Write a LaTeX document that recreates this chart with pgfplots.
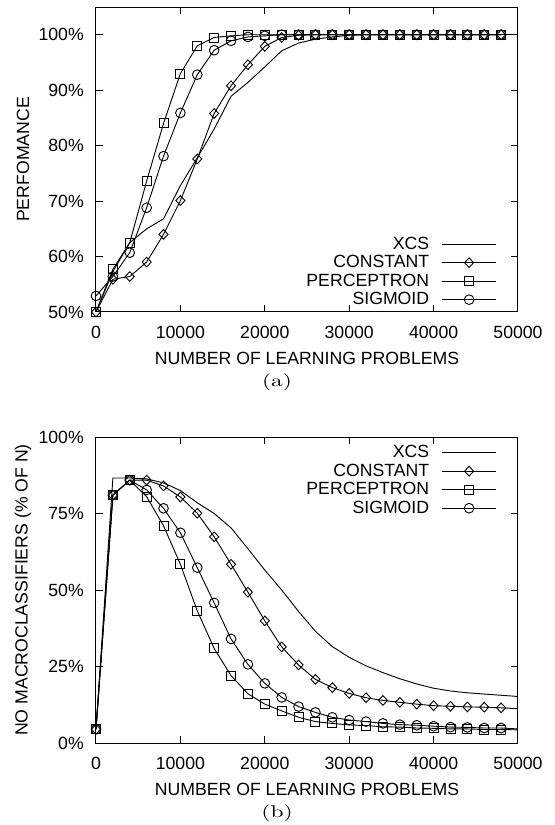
\documentclass[border=0pt]{standalone}
\usepackage{fontspec}
\newfontfamily\helv{Liberation Sans}
\usepackage{pgfplots}
\pgfplotsset{compat=1.18}
\usepackage{pgfplotstable}

% performance (%), every 2000 problems
\pgfplotstableread{
x     xcs   const perc  sig
0     50.0  50.0  50.0  52.9
2000  57.3  55.9  57.7  56.4
4000  62.5  56.4  62.5  60.7
6000  65.0  59.0  73.6  68.8
8000  66.8  64.0  84.0  78.1
10000 72.8  70.1  93.0  85.9
12000 77.8  77.6  98.0  92.8
14000 83.0  85.8  99.5  97.2
16000 88.9  90.8  99.8  98.9
18000 91.4  94.6  100   99.6
20000 94.2  97.9  100   99.8
22000 97.1  99.5  100   100
24000 98.5  99.9  100   100
26000 99.2  100   100   100
28000 99.6  100   100   100
30000 99.9  100   100   100
32000 100   100   100   100
34000 100   100   100   100
36000 100   100   100   100
38000 100   100   100   100
40000 100   100   100   100
42000 100   100   100   100
44000 100   100   100   100
46000 100   100   100   100
48000 100   100   100   100
}\perf
\pgfplotstableread{
x     xcs   const perc  sig
48000 100   100   100   100
50000 100   100   100   100
}\perfend

% macroclassifiers (% of N)
\pgfplotstableread{
x     xcs   const perc  sig
0     4.5   4.5   4.5   4.5
2000  86.6  81.0  81.0  81.0
4000  86.6  85.9  85.9  85.9
6000  86.3  85.9  80.5  82.7
8000  85.0  84.0  71.0  76.7
10000 82.5  80.4  58.4  68.7
12000 78.5  75.1  43.2  57.3
14000 75.0  67.4  30.9  45.8
16000 70.3  58.4  22.0  34.0
18000 63.5  49.3  16.1  25.7
20000 56.5  39.9  12.7  19.5
22000 50.0  31.4  10.5  14.9
24000 43.0  25.5  8.4   11.9
26000 36.5  20.8  7.0   10.0
28000 31.5  18.1  6.4   8.4
30000 28.0  16.2  5.9   7.5
32000 25.2  14.8  5.7   7.0
34000 23.0  13.9  5.3   6.4
36000 21.0  13.3  5.2   6.0
38000 19.3  12.7  4.9   5.8
40000 17.9  12.2  4.8   5.5
42000 17.0  12.0  4.6   5.2
44000 16.4  11.8  4.6   5.1
46000 16.0  11.7  4.4   4.9
48000 15.6  11.5  4.4   4.9
}\macro
\pgfplotstableread{
x     xcs   const perc  sig
48000 15.6  11.5  4.4   4.9
50000 15.2  11.2  4.3   4.6
}\macroend

\tikzset{capt/.style={font=\fontsize{10.2}{12}\selectfont}}

\pgfplotsset{
  gp/.style={
    scale only axis, width=253.2pt,
    clip mode=individual,
    xmin=0, xmax=50000, scaled x ticks=false,
    xtick={0,10000,20000,30000,40000,50000},
    xticklabels={0,10000,20000,30000,40000,50000},
    tick align=inside, major tick length=4pt,
    axis line style={line width=0.6pt}, tick style={line width=0.6pt,black},
    ticklabel style={font=\helv\fontsize{10.6}{12}\selectfont},
    xticklabel style={yshift=-5.2pt},
    yticklabel style={xshift=-3.8pt},
    label style={font=\helv\fontsize{10.6}{12}\selectfont},
    xlabel={NUMBER OF LEARNING PROBLEMS},
    xlabel style={at={(axis description cs:0.5,-0.153)},anchor=center},
    ylabel style={at={(axis description cs:-0.173,0.5)},anchor=center},
    legend plot pos=right, legend cell align=right,
    legend image code/.code={\draw[mark repeat=2,mark phase=2,##1] plot coordinates {(0pt,0pt) (16.2pt,0pt) (32.4pt,0pt)};},
    legend style={draw=none, fill=none, inner sep=0pt, column sep=7pt,
      font=\helv\fontsize{10.6}{12}\selectfont,
      nodes={inner sep=0.5pt, text height=8.1pt, text depth=2pt}},
    every axis plot/.append style={black, line width=0.55pt},
  },
  lxcs/.style={no marks},
  lconst/.style={mark=diamond, mark size=2.9pt, mark options={solid, xscale=1.25}},
  lperc/.style={mark=square, mark size=2.7pt, mark options={solid}},
  lsig/.style={mark=o, mark size=2.9pt, mark options={solid}},
}

\begin{document}
\begin{tikzpicture}
\begin{axis}[gp, height=183pt,
    ymin=50, ymax=105,
    ytick={50,60,70,80,90,100},
    yticklabels={50\%,60\%,70\%,80\%,90\%,100\%},
    ylabel={PERFOMANCE},
    legend style={at={(axis description cs:0.950,0.009)}, anchor=south east}]
  \addplot[lxcs]   table[y=xcs]   {\perf};
  \addplot[lconst] table[y=const] {\perf};
  \addplot[lperc]  table[y=perc]  {\perf};
  \addplot[lsig]   table[y=sig]   {\perf};
  \legend{XCS, CONSTANT, PERCEPTRON, SIGMOID}
  \addplot[no marks, forget plot] table[y=xcs]   {\perfend};
  \node[capt] at (axis description cs:0.429,-0.229) {\scalebox{1.38}[1]{(a)}};
\end{axis}

\begin{axis}[gp, height=183.6pt, at={(0pt,-258.6pt)},
    ymin=0, ymax=100,
    ytick={0,25,50,75,100},
    yticklabels={0\%,25\%,50\%,75\%,100\%},
    ylabel={NO MACROCLASSIFIERS (\% OF N)},
    legend style={at={(axis description cs:0.950,0.980)}, anchor=north east}]
  \addplot[lxcs]   table[y=xcs]   {\macro};
  \addplot[lconst] table[y=const] {\macro};
  \addplot[lperc]  table[y=perc]  {\macro};
  \addplot[lsig]   table[y=sig]   {\macro};
  \legend{XCS, CONSTANT, PERCEPTRON, SIGMOID}
  \addplot[no marks, forget plot] table[y=xcs]   {\macroend};
  \addplot[no marks, forget plot] table[y=const] {\macroend};
  \addplot[no marks, forget plot] table[y=perc]  {\macroend};
  \addplot[no marks, forget plot] table[y=sig]   {\macroend};
  \node[capt] at (axis description cs:0.429,-0.229) {\scalebox{1.38}[1]{(b)}};
\end{axis}
\pgfresetboundingbox
\path[use as bounding box] (-57.6pt,-307.8pt) rectangle (274.8pt,187.2pt);
\end{tikzpicture}
\end{document}
